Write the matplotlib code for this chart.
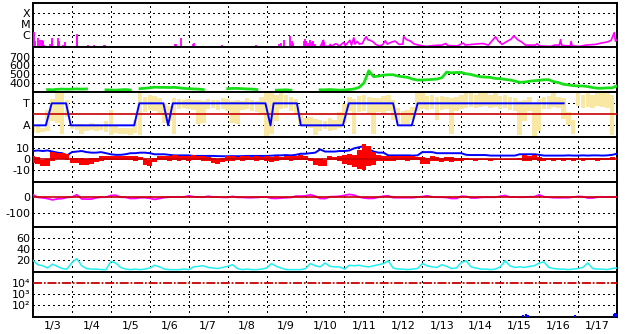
import numpy as np
import matplotlib
matplotlib.use('Agg')
import matplotlib.pyplot as plt

plt.rcParams['font.family'] = ['DejaVu Sans']
plt.rcParams['font.size'] = 8

nan = np.nan

# x axis: days since 1/3 00:00, 3-hourly samples (8 per day)
day_labels = ['1/%d' % d for d in range(3, 18)]

# X-ray flux (W/m2): isolated spikes (first half) and continuous trace (second half)
xray_spike_t = [0.02, 0.05, 0.14, 0.19, 0.22, 0.25, 0.28, 0.43, 0.48, 0.5, 0.64, 0.66,
                0.78, 0.83, 1.12, 1.14, 1.40, 1.57, 1.82, 1.85, 2.37, 2.42, 3.09, 3.65,
                3.68, 3.81, 4.1, 4.13, 4.7, 4.73, 4.86, 5.72, 6.22, 6.27, 6.32, 6.36,
                6.45, 6.61, 6.64, 6.68, 6.82, 6.86, 6.9, 6.95, 6.98, 7.02, 7.06, 7.12,
                7.16, 7.2, 7.24, 7.3, 7.45, 7.48, 7.6]
xray_spike_flux = [1.9e-6, 3e-7, 6e-7, 4e-7, 3.5e-7, 3.2e-7, 1.2e-7, 1.5e-7, 6e-7, 3e-7, 6e-7, 3e-7,
                   1.2e-7, 2.7e-7, 1.2e-6, 8e-7, 1.2e-7, 1.2e-7, 1.2e-7, 1.2e-7, 1e-7, 1e-7, 1e-7, 1.5e-7,
                   1.7e-7, 5.3e-7, 1.5e-7, 2e-7, 1e-7, 1e-7, 1.2e-7, 1.2e-7, 1e-7, 1e-7, 1.5e-7, 2e-7,
                   3.5e-7, 9.4e-7, 3e-7, 2e-7, 1e-7, 1e-7, 1e-7, 3e-7, 5e-7, 3e-7, 2e-7, 4e-7,
                   2.5e-7, 3e-7, 1.5e-7, 1e-7, 4e-7, 2.5e-7, 1e-7]
xray_line_t = [7.38, 7.46, 7.48, 7.6, 7.64, 7.66, 7.77, 7.82, 7.86, 7.98, 8.02, 8.14, 8.18,
               8.24, 8.27, 8.33, 8.38, 8.46, 8.52, 8.56, 8.6, 8.66, 8.74, 8.8, 8.9, 8.98,
               9.05, 9.1, 9.22, 9.3, 9.4, 9.5, 9.52, 9.6, 9.7, 9.78, 9.9, 10.1, 10.3, 10.5,
               10.6, 10.65, 10.9, 11.05, 11.1, 11.35, 11.55, 11.7, 11.8, 11.88, 11.95, 12.05,
               12.15, 12.28, 12.35, 12.45, 12.55, 12.65, 12.9, 12.95, 13.0, 13.3, 13.4, 13.52,
               13.55, 13.58, 13.8, 13.82, 13.85, 14.05, 14.2, 14.45, 14.6, 14.75, 14.85,
               14.93, 14.96, 15.0]
xray_line_flux = [1e-7, 3.5e-7, 1e-7, 1e-7, 1.5e-7, 1e-7, 1.7e-7, 1.5e-7, 1e-7, 2.3e-7, 1.2e-7, 3.5e-7, 1.3e-7,
                  6e-7, 1.6e-7, 2.8e-7, 1.6e-7, 1.8e-7, 5e-7, 7.5e-7, 4e-7, 3.5e-7, 2.5e-7, 1.5e-7, 1.1e-7, 1.4e-7,
                  3.2e-7, 1.6e-7, 2.5e-7, 3e-7, 1.5e-7, 1.6e-7, 7.5e-7, 4e-7, 3e-7, 1.7e-7, 1.3e-7, 1e-7, 1.2e-7, 1.3e-7,
                  1.8e-7, 1.2e-7, 1.1e-7, 2e-7, 1.3e-7, 1.6e-7, 1.8e-7, 1.3e-7, 3.5e-7, 7.5e-7, 3e-7, 1.5e-7,
                  2.5e-7, 4.5e-7, 9e-7, 4e-7, 2.5e-7, 1.3e-7, 1.3e-7, 1.7e-7, 1.1e-7, 1e-7, 1.3e-7, 1.3e-7,
                  4e-7, 1.2e-7, 1.1e-7, 2.8e-7, 1.1e-7, 1e-7, 1.3e-7, 1.5e-7, 2e-7, 2.5e-7, 3.5e-7,
                  1.8e-6, 3e-7, 4e-7]

# solar wind speed (km/s)
speed = [nan, nan, nan, 325, 322, 328, 330, 328,
         330, 332, 330, 332, nan, nan, nan, 322,
         320, 318, 322, 325, 320, nan, 335, 340,
         345, 352, 350, 350, 348, 350, 345, 338,
         335, 332, 330, 325, nan, nan, nan, nan,
         335, 338, 338, 335, 332, 330, 325, nan,
         nan, nan, 318, 320, 322, 318, nan, nan,
         nan, nan, nan, 322, 322, 325, 322, 318,
         320, 325, 332, 350, 400, 540, 471, 479,
         490, 494, 494, 479, 471, 464, 445, 434,
         434, 437, 441, 445, 460, 524, 516, 520,
         520, 505, 497, 482, 471, 467, 464, 452,
         449, 441, 434, 422, 407, 411, 419, 426,
         430, 437, 437, 415, 404, 385, 378, 370,
         366, 366, 359, 348, 340, 340, 344, 344,
         366]

# IMF sector (T = +1, A = -1), breakpoints
sector_t = [0, 0.33, 0.48, 0.85, 0.97, 2.60, 2.73, 3.35, 3.47, 3.59, 5.97, 6.10, 6.18,
            6.78, 6.88, 7.96, 8.11, 9.25, 9.37, 9.73, 9.88, 13.63]
sector_v = [-1, -1, 1, 1, -1, -1, 1, 1, -1, 1, 1, -1, 1,
            1, -1, -1, 1, 1, -1, -1, 1, 1]

# IMF angle, spread per 3-hour bin (same scale as sector)
phi_lo = [-1.6, -1.7, -1.6, -1.5, -0.6, -0.8, -1.8, -0.2,
          -1.3, -1.4, -1.8, -1.5, -1.4, -1.5, -1.4, -1.6,
          -1.9, -1.7, -1.8, -1.8, -1.9, -1.7, -1.9, 0.2,
          0.4, 0.3, 0.0, -0.8, -0.6, -1.8, 0.5, 0.6,
          0.5, 0.4, -0.9, -0.8, 0.5, 0.6, 0.4, 0.5,
          0.3, -0.8, -0.9, 0.4, 0.5, 0.3, 0.2, 0.0,
          -2.0, -1.8, -0.6, 0.5, 0.6, 0.3, 0.0, -0.9,
          -1.1, -1.2, -1.9, -1.5, -1.3, -1.5, -1.4, -1.2,
          -0.8, 0.3, -1.8, 0.2, 0.3, 0.0, -1.8, 0.2,
          0.1, 0.3, -0.5, -0.8, -0.9, -0.9, -0.5, 0.3,
          0.5, 0.4, 0.5, -0.5, 0.4, 0.5, -1.8, 0.3,
          0.5, 0.6, 0.7, 0.6, 0.7, 0.8, 0.6, 0.7,
          0.5, 0.6, 0.4, 0.3, -1.9, -0.6, 0.3, -2.0,
          -1.5, 0.5, 0.5, 0.7, 0.6, -0.4, -1.0, -1.8,
          0.8, 0.6, 0.7, 0.6, 0.8, 0.7, 0.6, -1.9]
phi_hi = [-1.1, -1.1, -1.2, 0.4, 1.4, 1.9, 2.0, 1.3,
          -0.8, -0.9, -0.9, -1.0, -0.8, -0.9, -1.0, -0.6,
          0.4, -1.1, -1.2, -1.2, -1.2, -0.5, 1.9, 1.6,
          1.8, 1.7, 1.5, 1.0, 0.8, 1.5, 1.4, 1.3,
          1.4, 1.3, 1.3, 1.2, 1.4, 1.3, 1.3, 1.5,
          1.4, 1.2, 1.3, 1.2, 1.5, 1.3, 1.2, 1.6,
          1.9, 2.0, 1.8, 2.0, 1.8, 1.6, 1.4, 0.0,
          -0.3, -0.2, -0.4, -0.5, -0.6, -0.3, -0.5, 0.2,
          0.9, 1.6, 1.4, 1.7, 1.8, 1.6, 1.5, 1.5,
          1.7, 1.8, 1.3, 0.6, 0.3, 0.4, 0.7, 1.9,
          1.9, 1.7, 1.8, 1.6, 1.7, 1.6, 1.5, 1.6,
          1.8, 1.9, 1.9, 1.8, 1.9, 1.9, 1.8, 1.9,
          1.7, 1.8, 1.6, 1.5, 1.2, 1.3, 1.6, 1.0,
          1.4, 1.6, 1.7, 1.9, 1.6, 1.5, 0.2, -0.5,
          1.9, 1.8, 1.9, 1.8, 2.0, 1.9, 1.9, 1.8]

# IMF Bt (nT)
bt = [7.5, 8, 7.5, 8, 7, 6, 5.5, 3.5,
      6.5, 7, 7.5, 6.5, 6, 6, 6.5, 5.5,
      4.5, 4, 4, 4.5, 5.5, 5.5, 6, 6,
      5.5, 4.5, 4.5, 4.5, 4, 3.5, 3.5, 3.5,
      3.5, 3, 3, 3, 3, 3, 2.8, 2.7,
      2.7, 2.8, 2.7, 2.8, 3, 3, 3, 3,
      3, 3.2, 3.5, 3.5, 3.8, 3.5, 4, 5,
      5, 5.5, 6, 9, 7, 7, 7, 7.5,
      7.5, 8, 10, 11, 12, 9, 7, 6,
      6, 3.5, 3.5, 3.5, 3.5, 3.5, 3.3, 3.5,
      6.5, 6.5, 6.5, 5.5, 5.5, 5.5, 5.5, 5.5,
      5.5, 4, 3.8, 3.8, 3.8, 3.8, 3.3, 3.3,
      3.3, 3.3, 3.3, 3.3, 4.5, 4.5, 4.5, 4.5,
      4, 3.3, 3.3, 3.3, 3.3, 3.3, 3.5, 3.3,
      3.3, 3.5, 3.3, 3.5, 3.5, 3.3, 3.5, 4,
      5]

# IMF Bz range per 3-hour bin (nT)
bz_lo = [-3.5, -4, -6.5, -6, -2, 0, 0.5, -1,
         -3.5, -3.5, -5, -5, -4, -3, -1.5, -1,
         -1, -0.5, -1, -0.5, -1, -1.5, -1, -5,
         -6, -3, -1, -1, -1.5, -1, -1.5, -1,
         -1.5, -0.5, -1, -1.5, -2, -3.5, -4, -3,
         -2, -1.5, -1, -1.5, -1, -1, -1.5, -1,
         -2, -2.5, -1.5, -1, -1, -1.5, -1, -1,
         -0.5, -2, -5, -6, -6, -1, -1, -1.5,
         -4, -5, -7, -9, -10, -6, -5, -2,
         -2, -2, -1.5, -1, -1, -1.5, -1, -1,
         -4, -4, -2, -2, -3, -2, -2.5, -1.5,
         -2, -1, -1, -1.5, -1, -1, -1.5, -1,
         -0.5, -1, -0.5, -1, -1, -2, -1.5, -1,
         -2, -1.5, -1, -2, -1, -1.5, -1, -1.5,
         -1, -1.5, -1, -1, -1.5, -1, -1, -1]
bz_hi = [2.5, 2, -0.5, 0, 6.5, 6, 5.5, 5,
         1, 1, 1, 0.5, 1, 1.5, 3, 3,
         2.5, 3, 2.5, 3, 2.5, 2.5, 2, 0,
         -0.5, 1.5, 3, 2.5, 3, 4, 3, 3,
         2.5, 3.5, 3, 2.5, 2, 1, 0.5, 1.5,
         2.5, 3, 2, 2.5, 2.5, 2, 2.5, 2,
         2.5, 2, 2.5, 2, 2.5, 2.5, 3, 3.5,
         3, 1, 0.5, 0, -0.5, 2.5, 2, 3,
         4, 5, 4, 8, 14, 12, 7, 4,
         3, 3, 3, 2.5, 2.5, 3, 2.5, 2,
         2, 1.5, 2.5, 2, 1.5, 2, 2, 1.5,
         1.5, 1, 0.5, 0.5, 0.5, 0.3, 0.5, 0.3,
         0.5, 0.5, 0.5, 0.5, 1, 3.5, 3, 3.5,
         2, 1.5, 1.5, 1.5, 1, 1.5, 1, 1.5,
         1.5, 1, 1.5, 1, 1.5, 1, 1.5, 2]

# Dst (nT)
dst = [15, -2, -5, -10, -18, -12, -10, -2,
       0, 15, -12, -13, -13, -5, -1, -1,
       10, 12, -1, -2, -9, -9, -4, -4,
       -8, -15, -9, -3, 0, 0, 0, 0,
       8, 2, 0, -1, 5, 0, 0, -2,
       -2, 4, -2, -2, -4, -4, -2, 0,
       0, -8, -9, -6, -4, -3, 6, 6,
       8, 15, 6, -9, -10, 2, 3, 5,
       11, 17, 12, 0, -6, -9, -8, -1,
       6, 8, -4, -4, -4, -4, -4, 0,
       3, 8, 0, -1, -1, -3, -9, -9,
       5, 4, -6, -6, -2, -1, -1, -1,
       5, 10, 0, 0, -1, -1, 2, 2,
       14, 2, -1, -4, -4, -4, -4, 0,
       4, 2, -6, -6, 0, 0, 0, 0,
       0]

# geomagnetic activity index
kp = [20, 12, 10, 6, 13, 9, 5, 4,
      16, 23, 10, 5, 4, 4, 3, 3,
      18, 15, 7, 4, 3, 4, 3, 4,
      6, 11, 8, 4, 3, 3, 3, 4,
      3, 8, 9, 10, 7, 6, 5, 7,
      9, 12, 5, 3, 4, 3, 3, 4,
      6, 14, 9, 6, 3, 3, 3, 3,
      5, 14, 10, 8, 15, 9, 8, 8,
      4, 11, 10, 11, 9, 8, 10, 12,
      14, 19, 6, 4, 4, 3, 4, 5,
      14, 10, 8, 7, 12, 9, 5, 6,
      16, 19, 8, 6, 4, 4, 3, 4,
      8, 19, 10, 7, 8, 7, 9, 10,
      15, 17, 7, 5, 4, 4, 3, 4,
      5, 7, 15, 5, 4, 4, 3, 5,
      6]

# electron flux, few small bursts near the bottom
elec_t = [12.58, 12.65, 12.72, 13.93, 14.93, 14.96, 14.99]
elec_v = [14, 16, 14, 12, 15, 21, 18]

t3 = np.arange(121) * 0.125
tb = t3[:120]

W, H = 628, 334
fig = plt.figure(figsize=(W / 100, H / 100), dpi=100)
edges = [3, 47, 92, 137, 182, 227, 272, 317]

DOT = dict(color='black', lw=0.75, ls=(0, (1, 3)), zorder=1, antialiased=False)
DARKRED = '#c80000'


def make_axis(i, ylim, ticks, labels, log=False):
    top, bot = edges[i], edges[i + 1]
    ax = fig.add_axes([33 / W, 1 - bot / H, 584 / W, (bot - top) / H])
    if log:
        ax.set_yscale('log')
    ax.set_xlim(0, 15)
    ax.set_ylim(*ylim)
    ax.set_yticks(ticks)
    ax.set_yticklabels(labels)
    ax.minorticks_off()
    ax.tick_params(axis='y', length=0, pad=2, labelsize=8)
    ax.set_xticks([])
    for s in ax.spines.values():
        s.set_linewidth(1.4)
        s.set_color('black')
    for d in range(1, 15):
        ax.axvline(d, **DOT)
    return ax


# 1: X-ray
ax1 = make_axis(0, (10 ** -7.06, 10 ** -3.06), [1e-4, 1e-5, 1e-6], ['X', 'M', 'C'], log=True)
for y in [1e-4, 1e-5, 1e-6]:
    ax1.axhline(y, **DOT)
ax1.vlines(xray_spike_t, 5e-8, xray_spike_flux, color='#ff00ff', lw=1.3, zorder=3)
ax1.plot(xray_line_t, xray_line_flux, color='#ff00ff', lw=1.2, zorder=3)

# 2: solar wind speed
ax2 = make_axis(1, (297, 811), [700, 600, 500, 400], ['700', '600', '500', '400'])
for y in [400, 500, 600, 700]:
    ax2.axhline(y, **DOT)
ax2.plot(t3, speed, color='#18e018', lw=2.0, zorder=3)

# 3: IMF sector
ax3 = make_axis(2, (-2.06, 2.03), [1, -1], ['T', 'A'])
for y in [1, -1]:
    ax3.axhline(y, **DOT)
ax3.bar(tb, np.array(phi_hi) - np.array(phi_lo), bottom=phi_lo, width=0.118,
        color='#f8e8a4', lw=0, zorder=2)
ax3.axhline(0, color=DARKRED, lw=1.2, zorder=3)
ax3.plot(sector_t, sector_v, color='#0000ff', lw=1.4, zorder=4)

# 4: IMF Bt / Bz
ax4 = make_axis(3, (-21, 20.4), [10, 0, -10], ['10', '0', '-10'])
for y in [10, -10]:
    ax4.axhline(y, **DOT)
ax4.plot(t3, bt, color='#0000ff', lw=1.4, zorder=3)
ax4.bar(tb, np.array(bz_hi) - np.array(bz_lo), bottom=bz_lo, width=0.125,
        color='#ff0000', lw=0, zorder=4)
ax4.axhline(0, color=DARKRED, lw=1.2, zorder=5)

# 5: Dst
ax5 = make_axis(4, (-193, 97), [0, -100], ['0', '-100'])
ax5.axhline(-100, **DOT)
ax5.plot(t3, dst, color='#ff00ff', lw=1.3, zorder=3)
ax5.axhline(0, color=DARKRED, lw=1.2, zorder=4)

# 6: index
ax6 = make_axis(5, (-1.3, 80.5), [60, 40, 20], ['60', '40', '20'])
for y in [20, 40, 60]:
    ax6.axhline(y, **DOT)
ax6.plot(t3, kp, color='#20f0f0', lw=1.1, zorder=3)

# 7: particle flux
ax7 = make_axis(6, (10 ** 0.94, 10 ** 5.03), [1e4, 1e3, 1e2],
                ['10\u2074', '10\u00b3', '10\u00b2'], log=True)
for y in [1e3, 1e2]:
    ax7.axhline(y, **DOT)
ax7.axhline(1e4, color=DARKRED, lw=1.3, ls=(0, (5, 1, 1, 1)), zorder=3)
ax7.vlines(elec_t, 10 ** 0.94, elec_v, color='#0000ff', lw=1.5, zorder=3)
ax7.set_xticks(np.arange(15) + 0.5)
ax7.set_xticklabels(day_labels)
ax7.tick_params(axis='x', length=0, pad=3, labelsize=8)

fig.savefig('out.png', dpi=100)
